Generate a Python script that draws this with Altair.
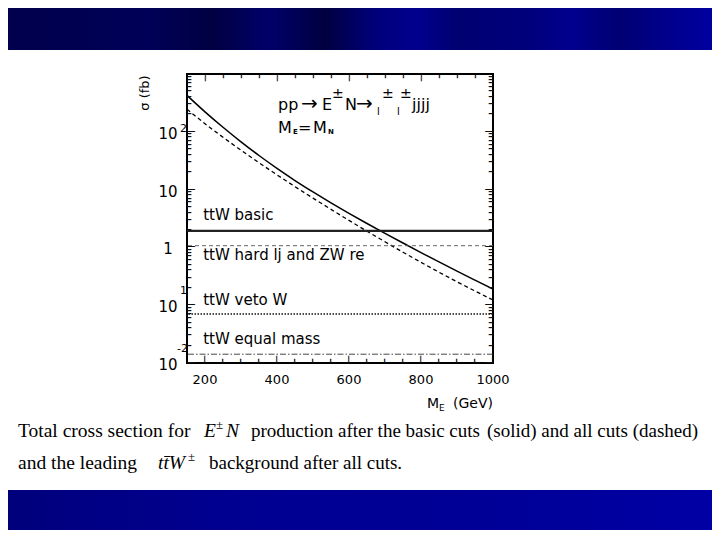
import altair as alt
import pandas as pd

# ---------------- data ----------------
mass = [150, 200, 250, 300, 350, 400, 450, 500, 550, 600,
        650, 700, 750, 800, 850, 900, 950, 1000]
sigma_basic = [426.6, 221.3, 119.7, 67.1, 38.9, 23.3, 14.35, 9.10, 5.89, 3.88,
               2.59, 1.75, 1.19, 0.813, 0.560, 0.388, 0.271, 0.19]
sigma_allcuts = [245.5, 138.0, 80.5, 48.1, 29.2, 18.0, 11.25, 7.13, 4.55, 2.93,
                 1.905, 1.25, 0.826, 0.552, 0.372, 0.254, 0.176, 0.123]

bkg_names = ["ttW basic", "ttW hard lj and ZW re", "ttW veto W", "ttW equal mass"]
bkg_sigma = [1.93, 1.07, 0.0705, 0.0142]
bkg_label_y = [2.98, 0.60, 0.1007, 0.021]

x_major = [200, 400, 600, 800, 1000]
x_minor = [250, 300, 350, 450, 500, 550, 650, 700, 750, 850, 900, 950]
y_major = [0.01, 0.1, 1, 10, 100, 1000]
y_minor = [k * d for d in [0.01, 0.1, 1, 10, 100] for k in range(2, 10)]

y_lab_vals = [100, 10, 1, 0.1, 0.01]
y_lab_main = ["10", "10", "1", "10", "10"]

# ---------------- helpers ----------------
X0, Y0 = 187, 74      # page position of plot area
W, H = 306, 289
XMIN, XMAX, YMIN, YMAX = 150, 1000, 0.01, 1000
SANS = "DejaVu Sans"
SERIF = "Liberation Serif"

xs = alt.Scale(domain=[XMIN, XMAX], nice=False, zero=False)
ys = alt.Scale(type="log", domain=[YMIN, YMAX], nice=False)


def X(f):
    return alt.X(f, type="quantitative", scale=xs, axis=None)


def Y(f):
    return alt.Y(f, type="quantitative", scale=ys, axis=None)


one = pd.DataFrame({"a": [0]})


def ptxt(text, px, py, size=15, font=SANS, align="left", style="normal", angle=0, baseline="alphabetic"):
    return alt.Chart(one).mark_text(
        text=text, align=align, baseline=baseline, font=font, fontSize=size,
        fontStyle=style, angle=angle, color="black"
    ).encode(x=alt.value(px - X0), y=alt.value(py - Y0))


def dtxt(text, xv, yv, dx=0, dy=0, size=15, align="left", baseline="alphabetic", weight="normal"):
    d = pd.DataFrame({"x": [xv], "y": [yv]})
    return alt.Chart(d).mark_text(
        text=text, align=align, baseline=baseline, font=SANS, fontSize=size,
        dx=dx, dy=dy, color="black", fontWeight=weight
    ).encode(x=X("x"), y=Y("y"))


# ---------------- slide bands ----------------
top_grad = alt.Gradient(
    gradient="linear", x1=0, x2=1, y1=0, y2=0,
    stops=[alt.GradientStop(offset=0, color="#00004c"),
           alt.GradientStop(offset=0.2, color="#000058"),
           alt.GradientStop(offset=0.29, color="#000042"),
           alt.GradientStop(offset=0.37, color="#00006a"),
           alt.GradientStop(offset=0.45, color="#000040"),
           alt.GradientStop(offset=0.52, color="#00007a"),
           alt.GradientStop(offset=0.58, color="#00008e"),
           alt.GradientStop(offset=0.64, color="#000070"),
           alt.GradientStop(offset=0.74, color="#00007c"),
           alt.GradientStop(offset=0.8, color="#00008e"),
           alt.GradientStop(offset=0.87, color="#000072"),
           alt.GradientStop(offset=0.93, color="#00008a"),
           alt.GradientStop(offset=1, color="#0000a0")])
bot_grad = alt.Gradient(
    gradient="linear", x1=0, x2=1, y1=0, y2=0,
    stops=[alt.GradientStop(offset=0, color="#00007c"),
           alt.GradientStop(offset=0.3, color="#000090"),
           alt.GradientStop(offset=0.7, color="#000098"),
           alt.GradientStop(offset=1, color="#0000a4")])

top_band = alt.Chart(one).mark_rect(fill=top_grad).encode(
    x=alt.value(8 - X0), x2=alt.value(712 - X0), y=alt.value(8 - Y0), y2=alt.value(50 - Y0))
bot_band = alt.Chart(one).mark_rect(fill=bot_grad).encode(
    x=alt.value(8 - X0), x2=alt.value(712 - X0), y=alt.value(490 - Y0), y2=alt.value(532 - Y0))

# ---------------- curves ----------------
curves = pd.DataFrame({"mass": mass, "basic": sigma_basic, "allcuts": sigma_allcuts})
solid = alt.Chart(curves).mark_line(color="black", strokeWidth=1.5, clip=True, interpolate="monotone").encode(
    x=X("mass"), y=Y("basic"))
dashed = alt.Chart(curves).mark_line(color="black", strokeWidth=1.3, strokeDash=[4, 3], clip=True,
                                     interpolate="monotone").encode(
    x=X("mass"), y=Y("allcuts"))

bkg = pd.DataFrame({"name": bkg_names, "sigma": bkg_sigma})
dashes = [None, [4, 3], [1.5, 1.5], [6, 2, 1.5, 2]]
widths = [2.2, 0.9, 1.4, 0.9]
colors = ["#222", "#555", "#111", "#333"]
rules = []
for i in range(4):
    kw = dict(color=colors[i], strokeWidth=widths[i])
    if dashes[i] is not None:
        kw["strokeDash"] = dashes[i]
    rules.append(alt.Chart(bkg.iloc[[i]]).mark_rule(**kw).encode(y=Y("sigma")))


# ---------------- inward ticks on all four sides (drawn as line glyphs) ----------------
def xglyph(vals, size, glyph):
    d = pd.DataFrame({"xg": [float(v) for v in vals]})
    bottom = alt.Chart(d).mark_text(
        text=glyph, font=SANS, fontSize=size, align="left", baseline="middle", angle=270,
        color="#111", clip=True).encode(x=X("xg"), y=alt.value(H))
    top = alt.Chart(d).mark_text(
        text=glyph, font=SANS, fontSize=size, align="left", baseline="middle", angle=90,
        color="#111", clip=True).encode(x=X("xg"), y=alt.value(0))
    return [bottom, top]


def yglyph(vals, size, glyph):
    d = pd.DataFrame({"yg": [float(v) for v in vals]})
    return [
        alt.Chart(d).mark_text(text=glyph, font=SANS, fontSize=size, align="left", baseline="middle",
                               color="#111", clip=True).encode(x=alt.value(0), y=Y("yg")),
        alt.Chart(d).mark_text(text=glyph, font=SANS, fontSize=size, align="right", baseline="middle",
                               color="#111", clip=True).encode(x=alt.value(W), y=Y("yg")),
    ]


glyph_ticks = (xglyph(x_major, 12, "\u2500") + xglyph(x_minor, 7, "\u2501")
               + yglyph(y_major, 13, "\u2500") + yglyph(y_minor, 7, "\u2501"))

# ---------------- tick labels ----------------
xl = pd.DataFrame({"x": x_major, "y": [YMIN] * len(x_major), "t": [str(v) for v in x_major]})
x_labels = alt.Chart(xl).mark_text(font=SANS, fontSize=13, dy=17, baseline="middle", align="center", color="black").encode(
    x=X("x"), y=Y("y"), text="t:N")
yl = pd.DataFrame({"x": [XMIN] * 5, "y": y_lab_vals, "t": y_lab_main})
y_labels = alt.Chart(yl).mark_text(font=SANS, fontSize=15, dx=-19, dy=2, baseline="middle", align="center", color="black").encode(
    x=X("x"), y=Y("y"), text="t:N")
y_sups = [
    dtxt("2", XMIN, 100, dx=-7, dy=-3, size=11, baseline="middle"),
    dtxt("1", XMIN, 0.1, dx=-7, dy=-14, size=11, baseline="middle"),
    dtxt("-2", XMIN, 0.01, dx=-10, dy=-14, size=11, baseline="middle"),
]

# ---------------- titles ----------------
titles = [
    ptxt("σ (fb)", 145, 93, size=13, angle=270, align="center", baseline="middle"),
    ptxt("M", 427, 408, size=14),
    ptxt("E", 439, 411, size=9),
    ptxt("(GeV)", 493, 408, size=14, align="right"),
]

# ---------------- in-plot annotations ----------------
ax, ay = 403, 238
annot = [
    dtxt("pp", ax, ay, 0, 0, 16),
    dtxt("→", ax, ay, 23, 0, 20),
    dtxt("E", ax, ay, 44, 0, 16),
    dtxt("±", ax, ay, 54, -12, 14),
    dtxt("N", ax, ay, 67, 0, 16),
    dtxt("→", ax, ay, 78, 0, 20),
    dtxt("l", ax, ay, 99, 5, 10),
    dtxt("±", ax, ay, 104, -12, 14),
    dtxt("l", ax, ay, 119, 5, 10),
    dtxt("±", ax, ay, 122, -12, 14),
    dtxt("jjjj", ax, ay, 134, 0, 16),
    dtxt("M", ax, ay, 0, 23, 16),
    dtxt("E", ax, ay, 15, 24, 7, weight="bold"),
    dtxt("=", ax, ay, 20, 23, 16),
    dtxt("M", ax, ay, 35, 23, 16),
    dtxt("N", ax, ay, 50, 24, 7, weight="bold"),
]
bkg_text = [dtxt(n, 195, v, 0, 0, 15) for n, v in zip(bkg_names, bkg_label_y)]

# ---------------- caption ----------------
caption = [
    ptxt("Total cross section for", 18, 437, size=19.5, font=SERIF),
    ptxt("E", 204, 437, size=19.5, font=SERIF, style="italic"),
    ptxt("±", 216, 429, size=13, font=SERIF),
    ptxt("N", 226, 437, size=19.5, font=SERIF, style="italic"),
    ptxt("production after the basic cuts", 251, 437, size=19, font=SERIF),
    ptxt("(solid) and all cuts (dashed)", 487, 437, size=19, font=SERIF),
    ptxt("and the leading", 18, 469, size=19.5, font=SERIF),
    ptxt("tt\u0304W", 158, 469, size=19.5, font=SERIF, style="italic"),
    ptxt("±", 188, 461, size=13, font=SERIF),
    ptxt("background after all cuts.", 209, 469, size=19, font=SERIF),
]

chart = alt.layer(
    top_band, bot_band, solid, dashed, *rules, x_labels, y_labels, *y_sups,
    *titles, *annot, *bkg_text, *caption, *glyph_ticks
).properties(
    width=W, height=H,
    padding={"left": X0 - 8, "top": Y0 - 8, "right": 704 - (X0 - 8) - W, "bottom": 522 - (Y0 - 8) - H},
    autosize=alt.AutoSizeParams(type="none"),
    background="white",
).configure_view(stroke="black", strokeWidth=2)

chart.save("out.html", embed_options={"renderer": "svg", "actions": False})
